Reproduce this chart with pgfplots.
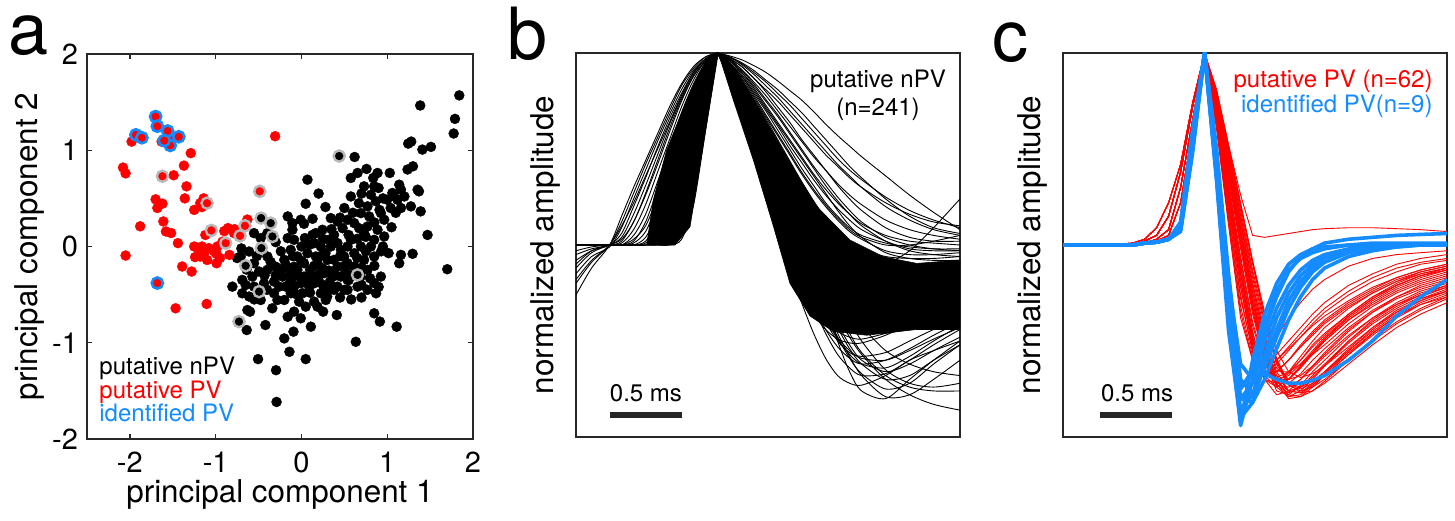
\documentclass[border=0pt]{standalone}
\usepackage{fontspec}
\setmainfont{TeX Gyre Heros}
\usepackage{pgfplots}
\usepackage{pgfplotstable}
\pgfplotsset{compat=1.18}
\definecolor{pvblue}{RGB}{20,140,255}
\definecolor{pvred}{RGB}{255,0,0}
\definecolor{ringgray}{RGB}{185,185,185}
\definecolor{axgray}{RGB}{40,40,40}
\newcommand{\fs}[1]{\fontsize{#1}{#1}\selectfont}

% ---------------- panel a data ----------------
\pgfplotstableread{
x y
1.385 1.465
1.84 1.57
1.79 1.326
1.775 1.174
1.245 1.069
1.28 1.09
1.41 1.007
1.51 1.035
0.62 0.93
0.07 0.694
0.576 0.712
0.654 0.764
0.759 0.806
0.837 0.712
0.899 0.608
1.03 0.764
1.237 0.80
1.30 0.833
1.354 0.59
1.37 0.573
1.14 0.642
1.06 0.556
1.12 0.486
1.39 0.365
1.47 0.12
1.70 -0.236
1.276 0.417
1.16 0.40
1.04 0.40
0.91 0.38
0.81 0.538
0.868 0.47
0.05 0.444
0.13 0.288
0.03 0.236
-0.105 0.243
-0.105 0.174
-0.16 0.087
-0.30 0.045
-0.805 -0.417
-0.69 -0.486
-0.61 -0.52
-0.63 -0.66
-0.60 -0.677
-0.638 -0.868
-0.42 -0.816
-0.506 -1.17
-0.296 -1.285
-0.29 -1.615
-0.2 -0.955
-0.14 -1.094
-0.093 -0.885
-0.16 -0.73
0.05 -1.17
0.11 -0.833
0.253 -0.677
0.412 -0.712
0.634 -0.99
0.848 -0.694
0.914 -0.78
1.11 -0.833
1.296 -0.076
1.16 -0.087
1.14 -0.174
1.016 -0.069
0.965 0.104
0.887 0.174
0.848 -0.104
0.926 -0.3125
0.848 -0.38
0.38 0.12
0.42 0.26
0.48 0.19
0.615 0.243
0.673 0.19
0.73 0.139
0.77 0.208
0.79 0.3125
0.576 0.069
0.46 -0.035
0.32 0.069
0.226 0
0.128 0.12
0.04 0.087
-0.086 0.069
-0.125 -0.035
-0.047 -0.104
0.07 -0.07
0.187 -0.174
0.304 -0.139
0.42 -0.21
0.537 -0.174
0.615 -0.07
0.73 -0.139
0.77 -0.243
0.69 -0.3125
0.537 -0.347
0.42 -0.417
0.32 -0.45
0.226 -0.486
0.148 -0.573
0.05 -0.625
-0.027 -0.573
0.012 -0.486
0.09 -0.417
-0.125 -0.486
-0.183 -0.417
-0.26 -0.417
-0.32 -0.486
-0.28 -0.556
-0.22 -0.3125
-0.125 -0.278
-0.047 -0.243
0.03 -0.3125
0.128 -0.3125
0.206 -0.365
0.265 -0.278
0.36 -0.3125
0.46 -0.3125
0.518 -0.26
0.38 -0.139
0.28 -0.07
0.167 -0.104
0.03 -0.174
-0.086 -0.21
-0.183 -0.19
-0.30 -0.21
-0.397 -0.243
-0.494 -0.26
-0.572 -0.3125
-0.69 -0.347
-0.708 -0.104
-0.61 -0.052
-0.553 -0.174
-0.397 -0.104
-0.475 0.087
-0.553 0.139
-0.397 0.139
-0.2 -0.139
-0.32 -0.365
-0.436 -0.382
-0.553 -0.417
-0.475 -0.556
-0.34 -0.642
-0.2 -0.556
-0.086 -0.677
-0.008 -0.746
0.187 -0.625
0.284 -0.556
0.38 -0.45
0.537 -0.45
0.654 -0.417
0.77 -0.45
0.87 -0.486
0.615 -0.208
0.693 0
0.81 0
0.848 0.069
0.965 0.278
1.0 0.486
1.08 0.52
0.77 0.417
0.693 0.347
0.537 0.278
0.342 0.295
0.245 0.174
0.148 0.035
0.342 0
0.42 0.035
0.537 0
0.498 -0.104
0.245 -0.226
0.148 -0.382
-0.008 -0.382
-0.086 -0.417
0.576 0.52
0.73 0.625
0.848 0.625
1.16 0.59
1.2 0.52
0.887 0.764
-0.16 0.3125
-0.008 0.278
0.167 0.139
0.926 0.347
-0.70 -0.02
-0.75 -0.12
-0.64 -0.24
-0.52 -0.10
-0.43 -0.30
-0.36 -0.16
-0.24 -0.05
-0.26 -0.27
-0.12 -0.35
0.10 -0.24
0.20 -0.29
0.33 -0.37
0.45 -0.53
0.58 -0.55
0.70 -0.53
0.90 -0.42
0.93 -0.05
0.67 0.45
0.50 0.40
0.28 0.41
0.20 0.55
-0.05 -0.30
0.00 -0.15
0.08 -0.35
0.15 -0.20
0.22 -0.10
0.25 -0.40
0.32 -0.25
0.40 -0.30
0.45 -0.10
0.50 -0.20
0.55 -0.35
0.60 -0.30
0.65 -0.12
0.70 -0.22
0.75 -0.05
0.80 -0.33
0.55 0.12
0.65 0.08
0.75 0.10
0.85 0.25
0.60 0.35
0.45 0.30
0.35 0.18
0.25 0.08
0.10 0.02
0.00 0.00
-0.10 -0.10
-0.20 -0.22
-0.30 -0.30
-0.15 -0.40
-0.05 -0.50
0.10 -0.48
0.30 -0.52
0.50 -0.45
0.70 -0.40
0.85 -0.20
0.95 0.00
1.05 0.20
1.10 0.35
0.95 0.50
0.70 0.55
-0.40 -0.45
-0.55 -0.55
-0.65 -0.40
}\blackpts

\pgfplotstableread{
x y
-1.98 1.09
-1.29 0.97
-1.37 0.84
-2.08 0.82
-2.05 0.76
-1.49 0.74
-1.34 0.625
-1.36 0.50
-1.70 0.49
-1.68 0.40
-1.62 0.445
-1.14 0.50
-1.25 0.38
-1.18 0.45
-1.16 0.41
-1.88 0.21
-1.61 0.26
-1.58 0.156
-1.52 0.14
-1.44 0.035
-2.05 -0.094
-1.25 0
-1.16 0
-1.08 -0.017
-1.24 -0.11
-1.18 -0.104
-1.10 -0.14
-0.99 -0.076
-0.99 -0.174
-0.84 -0.087
-1.39 -0.208
-1.28 -0.26
-1.105 -0.597
-1.467 -0.642
-0.307 1.146
-1.12 0.12
-0.856 0.191
-0.786 0.139
-0.98 0
-0.63 0.28
-1.02 -0.05
-0.92 0.05
-1.2 -0.02
-1.13 -0.06
-0.95 -0.12
-1.63 1.09
-1.55 1.13
-0.9 0.16
-0.78 0.18
}\redpts

\pgfplotstableread{
x y
-1.62 0.73
-1.10 0.45
-1.05 0.167
-0.883 0.035
-0.716 0.111
-0.658 0.215
-0.486 0.573
}\redgray

\pgfplotstableread{
x y
0.44 0.94
-0.47 0.295
-0.358 0.243
-0.338 0.104
-0.467 -0.017
-0.65 -0.2
-0.494 -0.469
-0.728 -0.78
0.654 -0.295
}\blackgray

\pgfplotstableread{
x y
-1.70 1.35
-1.93 1.16
-1.86 1.13
-1.68 1.25
-1.56 1.20
-1.43 1.14
-1.53 1.05
-1.60 1.10
-1.68 -0.38
}\bluepts

% ---------------- panel b data ----------------
\pgfplotstableread{
s L1 L2 L3 L4 L5 L6 L7 L8 L9 L10
0.2 -0.26 -0.15 -0.05 0 -0.1 0 0 0 0 0
1.5 -0.12 -0.06 -0.02 0 -0.03 0 0 0 0 0
3 0 -0.01 0 0 0 0 0 0 0 0
4 0.15 0.09 0.04 0.01 0 0 0 0 0 0
5 0.30 0.24 0.16 0.08 0.02 0.01 0 0 0 0
6 0.44 0.39 0.31 0.21 0.12 0.07 0.02 0 0 0
7 0.58 0.54 0.47 0.38 0.29 0.22 0.13 0.04 0 0
8 0.72 0.68 0.63 0.55 0.48 0.41 0.32 0.20 0.01 0
9 0.84 0.81 0.77 0.72 0.67 0.61 0.54 0.44 0.12 0.03
10 0.93 0.91 0.89 0.86 0.83 0.80 0.76 0.69 0.42 0.21
11 0.98 0.97 0.97 0.96 0.95 0.94 0.92 0.88 0.72 0.60
12 1 1 1 1 1 1 1 1 1 1
}\bleft

\pgfplotstableread{
s M1 M2 M3 M4 M5 M6 M7 M8 M9 M10
0.2 -0.2 -0.08 0 -0.03 0 0 0 -0.12 0 -0.18
1.5 -0.09 -0.03 0 -0.01 0 0 0 -0.04 0 -0.08
3 0 0 0 0 0 0 0 0 0 0
4 0.12 0.06 0.02 0 0 0 0 0.03 0 0.10
5 0.27 0.20 0.12 0.05 0.03 0 0 0.12 0 0.22
6 0.42 0.35 0.26 0.16 0.10 0.04 0.01 0.27 0 0.36
7 0.56 0.51 0.42 0.33 0.25 0.17 0.08 0.44 0.02 0.50
8 0.70 0.66 0.59 0.51 0.44 0.37 0.26 0.61 0.13 0.64
9 0.83 0.79 0.75 0.69 0.64 0.58 0.49 0.76 0.36 0.78
10 0.92 0.90 0.88 0.84 0.81 0.78 0.72 0.88 0.63 0.90
11 0.98 0.97 0.96 0.95 0.94 0.93 0.90 0.96 0.86 0.97
12 1 1 1 1 1 1 1 1 1 1
}\bleftb

\pgfplotstableread{
s R1 R2 R3 R4 R5 R6 R7 R8 R9 R10 R11 R12 R13 R14 R15 R16 R17 R18 R19 R20
12 1 1 1 1 1 1 1 1 1 1 1 1 1 1 1 1 1 1 1 1
13 0.985 0.97 0.96 0.95 0.93 0.90 0.88 0.85 0.88 0.92 0.90 0.92 0.93 0.95 0.92 0.87 0.97 0.94 0.86 0.98
14 0.965 0.93 0.90 0.86 0.82 0.76 0.72 0.66 0.72 0.80 0.77 0.82 0.84 0.88 0.80 0.70 0.91 0.85 0.68 0.94
15 0.935 0.87 0.82 0.76 0.70 0.60 0.54 0.45 0.55 0.66 0.62 0.70 0.72 0.79 0.66 0.50 0.84 0.74 0.48 0.89
16 0.90 0.81 0.73 0.66 0.57 0.44 0.36 0.25 0.37 0.51 0.46 0.57 0.60 0.70 0.50 0.30 0.76 0.62 0.28 0.83
17 0.855 0.75 0.64 0.55 0.44 0.29 0.19 0.06 0.19 0.36 0.30 0.42 0.47 0.60 0.34 0.12 0.68 0.50 0.08 0.77
18 0.805 0.68 0.55 0.44 0.32 0.15 0.04 -0.11 0.01 0.20 0.14 0.26 0.34 0.50 0.18 -0.04 0.59 0.38 -0.12 0.70
19 0.755 0.61 0.46 0.33 0.20 0.03 -0.09 -0.25 -0.16 0.05 -0.02 0.09 0.22 0.40 0.03 -0.18 0.50 0.26 -0.30 0.63
20 0.695 0.54 0.37 0.23 0.09 -0.08 -0.20 -0.36 -0.32 -0.10 -0.17 -0.10 0.11 0.31 -0.11 -0.30 0.41 0.15 -0.46 0.56
21 0.63 0.47 0.29 0.14 0.0 -0.16 -0.29 -0.44 -0.46 -0.24 -0.32 -0.30 0.02 0.22 -0.23 -0.39 0.33 0.05 -0.59 0.49
22 0.57 0.41 0.22 0.07 -0.07 -0.22 -0.35 -0.49 -0.57 -0.37 -0.46 -0.50 -0.06 0.15 -0.33 -0.45 0.25 -0.03 -0.68 0.42
23 0.515 0.35 0.16 0.02 -0.12 -0.26 -0.39 -0.51 -0.64 -0.48 -0.58 -0.66 -0.11 0.09 -0.40 -0.48 0.18 -0.09 -0.72 0.36
24 0.46 0.30 0.11 -0.02 -0.15 -0.28 -0.41 -0.51 -0.68 -0.57 -0.68 -0.76 -0.13 0.05 -0.44 -0.49 0.12 -0.14 -0.73 0.30
26 0.36 0.22 0.05 -0.06 -0.17 -0.28 -0.40 -0.47 -0.67 -0.70 -0.79 -0.80 -0.10 0.01 -0.46 -0.46 0.04 -0.20 -0.68 0.20
28 0.26 0.16 0.02 -0.07 -0.16 -0.25 -0.36 -0.41 -0.60 -0.78 -0.78 -0.70 -0.03 -0.01 -0.43 -0.42 0.0 -0.22 -0.60 0.13
30 0.17 0.12 0.01 -0.07 -0.14 -0.22 -0.31 -0.35 -0.52 -0.83 -0.70 -0.60 0.09 -0.02 -0.39 -0.38 -0.02 -0.22 -0.55 0.08
32.2 0.08 0.10 0.0 -0.06 -0.12 -0.18 -0.26 -0.30 -0.44 -0.86 -0.60 -0.50 0.24 -0.02 -0.34 -0.35 -0.03 -0.20 -0.50 0.05
}\bright

\pgfplotstableread{
s Q1 Q2 Q3 Q4 Q5 Q6 Q7 Q8 Q9 Q10 Q11 Q12 Q13 Q14 Q15 Q16 Q17 Q18 Q19 Q20
12 1 1 1 1 1 1 1 1 1 1 1 1 1 1 1 1 1 1 1 1
13 0.975 0.965 0.95 0.96 0.94 0.93 0.97 0.95 0.98 0.96 0.89 0.91 0.90 0.93 0.87 0.92 0.88 0.91 0.94 0.89
14 0.945 0.915 0.88 0.90 0.86 0.84 0.93 0.87 0.95 0.89 0.74 0.78 0.76 0.83 0.71 0.81 0.73 0.79 0.85 0.75
15 0.90 0.85 0.80 0.83 0.77 0.73 0.87 0.78 0.91 0.81 0.57 0.63 0.60 0.71 0.52 0.68 0.56 0.65 0.74 0.58
16 0.85 0.78 0.71 0.75 0.67 0.62 0.80 0.68 0.86 0.72 0.40 0.47 0.44 0.58 0.33 0.54 0.38 0.50 0.62 0.41
17 0.79 0.70 0.62 0.67 0.57 0.50 0.72 0.58 0.81 0.63 0.23 0.31 0.27 0.44 0.15 0.39 0.21 0.35 0.49 0.24
18 0.73 0.62 0.52 0.58 0.47 0.39 0.64 0.48 0.75 0.54 0.06 0.15 0.10 0.30 -0.02 0.24 0.04 0.19 0.35 0.07
19 0.66 0.54 0.43 0.49 0.37 0.28 0.55 0.38 0.69 0.45 -0.10 -0.01 -0.06 0.16 -0.18 0.09 -0.12 0.03 0.21 -0.09
20 0.59 0.46 0.34 0.40 0.28 0.18 0.47 0.29 0.62 0.36 -0.25 -0.16 -0.21 0.02 -0.32 -0.06 -0.27 -0.13 0.07 -0.24
21 0.52 0.39 0.26 0.31 0.20 0.09 0.39 0.21 0.55 0.27 -0.38 -0.30 -0.35 -0.12 -0.44 -0.20 -0.40 -0.28 -0.07 -0.37
22 0.45 0.32 0.19 0.23 0.13 0.02 0.31 0.14 0.48 0.18 -0.49 -0.43 -0.48 -0.26 -0.53 -0.34 -0.50 -0.41 -0.20 -0.48
23 0.39 0.26 0.13 0.16 0.07 -0.04 0.24 0.08 0.41 0.10 -0.57 -0.54 -0.59 -0.39 -0.59 -0.46 -0.56 -0.52 -0.32 -0.55
24 0.34 0.21 0.08 0.10 0.03 -0.08 0.18 0.04 0.35 0.04 -0.62 -0.62 -0.67 -0.50 -0.62 -0.56 -0.58 -0.60 -0.42 -0.59
26 0.25 0.13 0.02 0.02 -0.03 -0.12 0.09 0.00 0.24 -0.04 -0.64 -0.70 -0.75 -0.65 -0.60 -0.68 -0.56 -0.66 -0.55 -0.60
28 0.18 0.08 -0.02 -0.03 -0.05 -0.13 0.04 0.00 0.15 -0.07 -0.58 -0.68 -0.72 -0.72 -0.54 -0.74 -0.50 -0.62 -0.62 -0.55
30 0.13 0.05 -0.03 -0.05 -0.05 -0.12 0.02 0.02 0.09 -0.08 -0.50 -0.60 -0.62 -0.74 -0.47 -0.76 -0.44 -0.55 -0.66 -0.49
32.2 0.09 0.03 -0.03 -0.06 -0.04 -0.10 0.02 0.05 0.06 -0.08 -0.42 -0.52 -0.52 -0.72 -0.40 -0.76 -0.38 -0.48 -0.68 -0.43
}\brightb

% ---------------- panel c data ----------------
\pgfplotstableread{
s r1 r2 r3 r4 r5 r6 r7 r8 r9 r10 r11 r12 r13 r14 r15 r16 r17 r18 r19 r20 r21
0.2 0 0 0 0 0 0 0 0 0 0 0 0 0 0 0 0 0 0 0 0 0
4 0 0 0 0 0 0 0 0 0 0 0 0 0 0 0 0 0 0 0 0 0
6 0.01 0 0 0 0 0 0.01 0 0 0 0 0 0 0.01 0 0 0 0 0 0 0
7 0.03 0.02 0.01 0.01 0.02 0.01 0.03 0.01 0.02 0.01 0.01 0.02 0.01 0.03 0.01 0.02 0.01 0.02 0.01 0.01 0.02
8 0.09 0.05 0.03 0.02 0.05 0.03 0.09 0.02 0.05 0.03 0.02 0.05 0.03 0.09 0.02 0.05 0.03 0.05 0.02 0.03 0.05
9 0.22 0.15 0.08 0.05 0.15 0.08 0.22 0.05 0.15 0.08 0.05 0.15 0.08 0.22 0.05 0.15 0.08 0.15 0.05 0.08 0.15
10 0.42 0.38 0.30 0.22 0.38 0.30 0.42 0.22 0.38 0.30 0.22 0.38 0.30 0.42 0.22 0.38 0.30 0.38 0.22 0.30 0.38
11 0.74 0.72 0.65 0.60 0.72 0.65 0.74 0.60 0.72 0.65 0.60 0.72 0.65 0.74 0.60 0.72 0.65 0.72 0.60 0.65 0.72
12 1 1 1 1 1 1 1 1 1 1 1 1 1 1 1 1 1 1 1 1 1
13 0.62 0.66 0.70 0.72 0.75 0.77 0.80 0.68 0.74 0.78 0.80 0.70 0.76 0.64 0.73 0.79 0.69 0.75 0.81 0.71 0.60
14 0.12 0.20 0.30 0.35 0.40 0.45 0.50 0.26 0.38 0.46 0.52 0.28 0.42 0.16 0.36 0.48 0.24 0.40 0.52 0.31 0.10
15 -0.35 -0.22 -0.10 -0.02 0.06 0.12 0.20 -0.15 0.02 0.13 0.26 -0.14 0.08 -0.28 0.00 0.16 -0.18 0.05 0.22 -0.08 -0.38
16 -0.60 -0.52 -0.45 -0.36 -0.28 -0.20 -0.10 -0.50 -0.32 -0.20 0.05 -0.48 -0.25 -0.55 -0.34 -0.15 -0.50 -0.30 -0.08 -0.42 -0.60
17 -0.64 -0.66 -0.68 -0.60 -0.56 -0.48 -0.38 -0.70 -0.58 -0.47 0.04 -0.70 -0.52 -0.62 -0.60 -0.42 -0.66 -0.55 -0.35 -0.63 -0.58
18 -0.60 -0.66 -0.74 -0.72 -0.74 -0.68 -0.60 -0.72 -0.70 -0.64 0.05 -0.78 -0.70 -0.57 -0.73 -0.62 -0.66 -0.66 -0.55 -0.69 -0.48
19 -0.54 -0.60 -0.70 -0.72 -0.79 -0.76 -0.72 -0.66 -0.70 -0.70 0.06 -0.76 -0.78 -0.50 -0.74 -0.73 -0.60 -0.66 -0.66 -0.66 -0.38
20 -0.48 -0.53 -0.63 -0.67 -0.76 -0.77 -0.75 -0.58 -0.64 -0.68 0.07 -0.70 -0.79 -0.43 -0.70 -0.76 -0.52 -0.62 -0.69 -0.60 -0.30
21 -0.42 -0.47 -0.56 -0.60 -0.70 -0.72 -0.72 -0.50 -0.56 -0.63 0.08 -0.63 -0.76 -0.36 -0.64 -0.74 -0.45 -0.57 -0.67 -0.53 -0.23
22 -0.37 -0.41 -0.50 -0.54 -0.63 -0.66 -0.67 -0.43 -0.49 -0.57 0.085 -0.56 -0.71 -0.30 -0.58 -0.70 -0.39 -0.52 -0.63 -0.47 -0.18
24 -0.29 -0.32 -0.39 -0.43 -0.50 -0.54 -0.56 -0.33 -0.37 -0.45 0.09 -0.44 -0.60 -0.21 -0.47 -0.60 -0.30 -0.41 -0.53 -0.36 -0.11
26 -0.22 -0.25 -0.31 -0.34 -0.39 -0.43 -0.46 -0.25 -0.28 -0.35 0.09 -0.35 -0.49 -0.15 -0.38 -0.50 -0.23 -0.32 -0.43 -0.27 -0.07
28 -0.17 -0.19 -0.24 -0.27 -0.31 -0.34 -0.37 -0.19 -0.21 -0.27 0.085 -0.28 -0.40 -0.10 -0.31 -0.41 -0.17 -0.25 -0.35 -0.20 -0.05
30 -0.13 -0.15 -0.19 -0.22 -0.25 -0.28 -0.31 -0.14 -0.16 -0.21 0.08 -0.23 -0.33 -0.07 -0.26 -0.34 -0.13 -0.20 -0.29 -0.15 -0.04
32.2 -0.10 -0.12 -0.15 -0.18 -0.21 -0.24 -0.27 -0.11 -0.13 -0.17 0.07 -0.19 -0.27 -0.05 -0.22 -0.28 -0.10 -0.16 -0.24 -0.12 -0.03
}\redtab

\pgfplotstableread{
s q1 q2 q3 q4 q5 q6 q7 q8 q9 q10 q11 q12 q13 q14 q15
0.2 0 0 0 0 0 0 0 0 0 0 0 0 0 0 0
4 0 0 0 0 0 0 0 0 0 0 0 0 0 0 0
6 0.01 0 0 0 0 0 0.01 0 0 0 0 0.01 0 0 0
7 0.03 0.02 0.01 0.01 0.02 0.01 0.03 0.02 0.01 0.01 0.02 0.03 0.01 0.02 0.01
8 0.09 0.05 0.03 0.02 0.05 0.03 0.09 0.05 0.02 0.03 0.05 0.09 0.03 0.05 0.02
9 0.22 0.15 0.08 0.05 0.15 0.08 0.22 0.15 0.05 0.08 0.15 0.22 0.08 0.15 0.05
10 0.42 0.38 0.30 0.22 0.38 0.30 0.42 0.38 0.22 0.30 0.38 0.42 0.30 0.38 0.22
11 0.74 0.72 0.65 0.60 0.72 0.65 0.74 0.72 0.60 0.65 0.72 0.74 0.65 0.72 0.60
12 1 1 1 1 1 1 1 1 1 1 1 1 1 1 1
13 0.65 0.73 0.77 0.70 0.79 0.68 0.75 0.63 0.80 0.72 0.76 0.66 0.74 0.78 0.69
14 0.18 0.37 0.44 0.29 0.49 0.24 0.41 0.14 0.51 0.33 0.43 0.22 0.39 0.47 0.27
15 -0.26 0.01 0.11 -0.12 0.18 -0.19 0.07 -0.32 0.21 -0.06 0.09 -0.22 0.04 0.15 -0.15
16 -0.56 -0.33 -0.22 -0.46 -0.13 -0.52 -0.27 -0.58 -0.09 -0.40 -0.24 -0.54 -0.30 -0.17 -0.48
17 -0.68 -0.60 -0.50 -0.66 -0.40 -0.70 -0.54 -0.66 -0.37 -0.62 -0.52 -0.64 -0.57 -0.45 -0.67
18 -0.66 -0.76 -0.70 -0.72 -0.61 -0.74 -0.71 -0.62 -0.59 -0.70 -0.72 -0.60 -0.73 -0.66 -0.71
19 -0.60 -0.78 -0.79 -0.70 -0.72 -0.70 -0.76 -0.55 -0.72 -0.68 -0.80 -0.53 -0.77 -0.76 -0.67
20 -0.53 -0.73 -0.78 -0.64 -0.74 -0.63 -0.74 -0.48 -0.77 -0.62 -0.79 -0.46 -0.74 -0.77 -0.60
21 -0.46 -0.66 -0.73 -0.57 -0.71 -0.56 -0.69 -0.41 -0.76 -0.55 -0.74 -0.39 -0.68 -0.73 -0.52
22 -0.40 -0.60 -0.67 -0.50 -0.66 -0.49 -0.63 -0.35 -0.72 -0.48 -0.68 -0.33 -0.62 -0.68 -0.46
24 -0.31 -0.48 -0.55 -0.39 -0.55 -0.38 -0.51 -0.26 -0.62 -0.37 -0.57 -0.24 -0.50 -0.57 -0.36
26 -0.24 -0.38 -0.44 -0.30 -0.45 -0.29 -0.41 -0.19 -0.52 -0.28 -0.46 -0.17 -0.40 -0.47 -0.27
28 -0.18 -0.30 -0.35 -0.23 -0.36 -0.22 -0.33 -0.14 -0.43 -0.21 -0.37 -0.12 -0.32 -0.38 -0.21
30 -0.14 -0.24 -0.28 -0.18 -0.29 -0.17 -0.27 -0.10 -0.36 -0.16 -0.30 -0.09 -0.26 -0.31 -0.16
32.2 -0.11 -0.20 -0.23 -0.14 -0.24 -0.13 -0.22 -0.08 -0.30 -0.13 -0.25 -0.07 -0.21 -0.26 -0.12
}\redtabb

\pgfplotstableread{
s b1 b2 b3 b4 b5 b6 b7 b8 b9
0.2 0 0 0 0 0 0 0 0 0
4 0 0 0 0 0 0 0 0 0
6 0 0 0 0 0 0 0 0 0
7 0.01 0.01 0.01 0.01 0.01 0.01 0.01 0.01 0.01
8 0.015 0.015 0.015 0.015 0.015 0.015 0.015 0.015 0.015
9 0.03 0.03 0.03 0.03 0.03 0.03 0.03 0.03 0.03
10 0.10 0.08 0.12 0.09 0.10 0.07 0.11 0.10 0.08
11 0.55 0.50 0.60 0.52 0.56 0.48 0.58 0.54 0.50
12 1 1 1 1 1 1 1 1 1
13 0.35 0.40 0.38 0.42 0.36 0.45 0.40 0.33 0.50
14 -0.40 -0.30 -0.35 -0.25 -0.38 -0.20 -0.30 -0.45 -0.15
15 -0.94 -0.80 -0.86 -0.75 -0.90 -0.62 -0.80 -0.92 -0.70
16 -0.70 -0.72 -0.78 -0.65 -0.82 -0.70 -0.82 -0.60 -0.78
17 -0.42 -0.50 -0.57 -0.45 -0.62 -0.67 -0.70 -0.36 -0.64
18 -0.24 -0.33 -0.38 -0.27 -0.44 -0.70 -0.54 -0.20 -0.48
19 -0.13 -0.21 -0.25 -0.14 -0.29 -0.72 -0.39 -0.10 -0.33
20 -0.07 -0.13 -0.16 -0.06 -0.19 -0.72 -0.27 -0.05 -0.22
21 -0.04 -0.08 -0.10 -0.02 -0.12 -0.705 -0.18 -0.02 -0.14
22 -0.02 -0.05 -0.06 0.01 -0.07 -0.68 -0.12 -0.01 -0.09
24 0 -0.02 -0.03 0.03 -0.03 -0.60 -0.06 0 -0.04
26 0 -0.01 -0.01 0.04 -0.01 -0.50 -0.03 0.01 -0.02
28 0 0 0 0.05 0 -0.37 -0.01 0.01 -0.01
30 0 0 0 0.055 0 -0.27 0 0.01 0
32.2 0 0 0 0.06 0 -0.18 0 0.01 0
}\bluetab

\pgfplotsset{
  wavebox/.style={
    scale only axis, width=192pt, height=192pt, anchor=south west,
    xmin=0.2, xmax=32.2, ymin=-1, ymax=1,
    xtick=\empty, ytick=\empty,
    axis line style={axgray, line width=0.8pt},
    ylabel={normalized amplitude},
    label style={font=\fs{15.7}},
    ylabel style={at={(axis description cs:-0.08,0.5)}, anchor=center},
  },
}

\begin{document}
\begin{tikzpicture}
\path[use as bounding box] (0,0) rectangle (727.5pt,260pt);

% panel letters
\node[anchor=base west, inner sep=0pt, font=\fs{36}] at (4pt,232.5pt) {a};
\node[anchor=base west, inner sep=0pt, font=\fs{36}] at (253.5pt,230pt) {b};
\node[anchor=base west, inner sep=0pt, font=\fs{36}] at (496pt,229pt) {c};

% ---------------- panel a ----------------
\begin{axis}[
  at={(43.5pt,40.5pt)}, anchor=south west,
  scale only axis, width=193pt, height=192.5pt,
  xmin=-2.5, xmax=2, ymin=-2, ymax=2,
  xtick={-2,-1,0,1,2}, xticklabels={-2,-1,0,1,2},
  ytick={-2,-1,0,1,2}, yticklabels={-2,-1,0,1,2},
  tick align=inside, tick pos=both, major tick length=2.5pt,
  tick style={axgray, line width=0.7pt},
  axis line style={axgray, line width=0.8pt},
  ticklabel style={font=\fs{14.5}},
  xticklabel style={yshift=-3pt},
  yticklabel style={xshift=-1pt},
  xlabel={principal component 1}, ylabel={principal component 2},
  label style={font=\fs{15.7}},
  xlabel style={at={(axis description cs:0.5,-0.145)}, anchor=center},
  ylabel style={at={(axis description cs:-0.148,0.5)}, anchor=center},
]
\addplot[only marks, mark=*, mark size=2.5pt, mark options={fill=black, draw=black, line width=0.2pt}] table[x=x,y=y]{\blackpts};
\addplot[only marks, mark=*, mark size=2.5pt, mark options={fill=pvred, draw=pvred, line width=0.2pt}] table[x=x,y=y]{\redpts};
\addplot[only marks, mark=*, mark size=2.8pt, mark options={fill=pvred, draw=ringgray, line width=1.2pt}] table[x=x,y=y]{\redgray};
\addplot[only marks, mark=*, mark size=2.8pt, mark options={fill=black, draw=ringgray, line width=1.2pt}] table[x=x,y=y]{\blackgray};
\addplot[only marks, mark=*, mark size=2.8pt, mark options={fill=pvred, draw=pvblue, line width=1.3pt}] table[x=x,y=y]{\bluepts};
\node[anchor=base west, inner sep=0pt, font=\fs{12}, text=black] at (axis cs:-2.36,-1.335) {putative nPV};
\node[anchor=base west, inner sep=0pt, font=\fs{12}, text=pvred] at (axis cs:-2.36,-1.574) {putative PV};
\node[anchor=base west, inner sep=0pt, font=\fs{12}, text=pvblue] at (axis cs:-2.36,-1.823) {identified PV};
\end{axis}

% ---------------- panel b ----------------
\begin{axis}[wavebox, at={(288pt,41.5pt)}]
\addplot[fill=black, draw=black, line width=0.3pt] coordinates {(6.09,0) (8.45,0) (9.7,0.095) (12.06,1) (11.09,0.97) (9.42,0.755) (7.76,0.495) (6.64,0.234)} -- cycle;
\addplot[fill=black, draw=black, line width=0.3pt] coordinates {(12.06,1) (13.31,0.929) (15.53,0.703) (17.76,0.46) (20.26,0.2) (23.03,0.026) (25.81,-0.061) (28.59,-0.096) (32.2,-0.078) (32.2,-0.44) (28.59,-0.44) (24.42,-0.47) (21.64,-0.45) (19.7,-0.37) (18.03,-0.2) (16.64,0.1) (14.98,0.443) (13.31,0.755)} -- cycle;
\pgfplotsinvokeforeach{1,...,10}{
  \addplot[black, line width=0.45pt, smooth] table[x=s,y=L#1]{\bleft};
  \addplot[black, line width=0.45pt, smooth] table[x=s,y=M#1]{\bleftb};
}
\pgfplotsinvokeforeach{1,...,20}{
  \addplot[black, line width=0.45pt, smooth] table[x=s,y=R#1]{\bright};
  \addplot[black, line width=0.45pt, smooth] table[x=s,y=Q#1]{\brightb};
}
\addplot[black!85, line width=3.3pt] coordinates {(3.03,-0.885) (9.03,-0.885)};
\node[anchor=base, inner sep=0pt, font=\fs{12}] at (axis cs:6.03,-0.8125) {0.5 ms};
\node[anchor=base, inner sep=0pt, font=\fs{12}] at (axis cs:25.37,0.818) {putative nPV};
\node[anchor=base, inner sep=0pt, font=\fs{12}] at (axis cs:25.37,0.677) {(n=241)};
\end{axis}

% ---------------- panel c ----------------
\begin{axis}[wavebox, at={(531.5pt,41.5pt)}]
\pgfplotsinvokeforeach{1,...,21}{
  \addplot[pvred, line width=0.45pt, line join=round] table[x=s,y=r#1]{\redtab};
}
\pgfplotsinvokeforeach{1,...,15}{
  \addplot[pvred, line width=0.45pt, line join=round] table[x=s,y=q#1]{\redtabb};
}
\pgfplotsinvokeforeach{1,...,9}{
  \addplot[pvblue, line width=1.8pt, line join=round] table[x=s,y=b#1]{\bluetab};
}
\addplot[black!85, line width=3.3pt] coordinates {(3.28,-0.885) (9.28,-0.885)};
\node[anchor=base, inner sep=0pt, font=\fs{12}] at (axis cs:6.37,-0.816) {0.5 ms};
\node[anchor=base east, inner sep=0pt, font=\fs{12}, text=pvred] at (axis cs:31.03,0.821) {putative PV (n=62)};
\node[anchor=base east, inner sep=0pt, font=\fs{12}, text=pvblue] at (axis cs:31.03,0.689) {identified PV(n=9)};
\end{axis}
\end{tikzpicture}
\end{document}
